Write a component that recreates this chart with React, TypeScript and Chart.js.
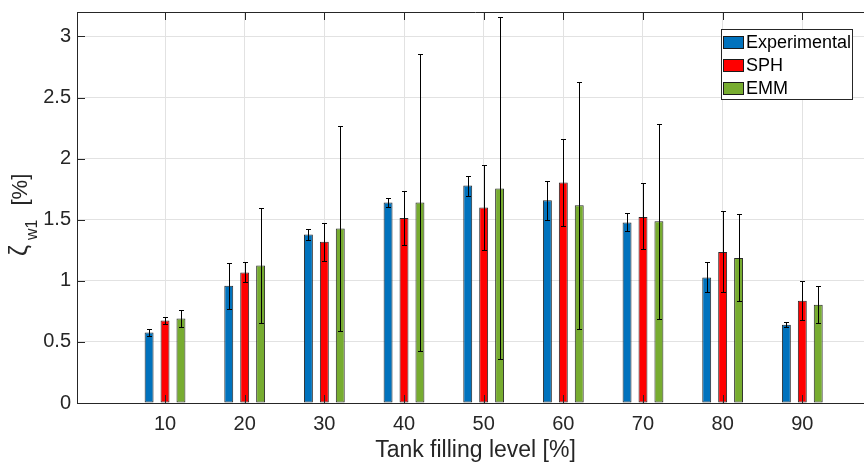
import React, { useEffect, useRef } from 'react';
import { Chart, registerables } from 'chart.js';

Chart.register(...registerables);

const levels = [10, 20, 30, 40, 50, 60, 70, 80, 90];
const seriesNames = ['Experimental', 'SPH', 'EMM'];

const expMean = [0.578, 0.959, 1.379, 1.641, 1.780, 1.660, 1.477, 1.028, 0.640];
const expLow = [0.545, 0.769, 1.338, 1.608, 1.698, 1.499, 1.409, 0.910, 0.621];
const expHigh = [0.608, 1.142, 1.420, 1.679, 1.859, 1.818, 1.551, 1.158, 0.660];

const sphMean = [0.676, 1.068, 1.319, 1.515, 1.600, 1.804, 1.523, 1.235, 0.837];
const sphLow = [0.648, 0.987, 1.164, 1.297, 1.251, 1.445, 1.257, 0.905, 0.676];
const sphHigh = [0.703, 1.153, 1.472, 1.731, 1.949, 2.164, 1.799, 1.572, 0.995];

const emmMean = [0.692, 1.126, 1.428, 1.641, 1.755, 1.619, 1.488, 1.186, 0.804];
const emmLow = [0.621, 0.652, 0.589, 0.425, 0.357, 0.608, 0.684, 0.834, 0.652];
const emmHigh = [0.762, 1.597, 2.268, 2.859, 3.156, 2.630, 2.284, 1.543, 0.959];

const yTicks = [0, 0.5, 1, 1.5, 2, 2.5, 3];

const FONT = "'Liberation Sans', Arial, Helvetica, sans-serif";
const colors = ['#0072BD', '#FF0000', '#77AC30'];
const AXIS = '#262626';
const GRID = '#e2e2e2';

export default function App() {
  const ref = useRef<HTMLCanvasElement>(null);

  useEffect(() => {
    if (!ref.current) return;
    const means = [expMean, sphMean, emmMean];
    const lows = [expLow, sphLow, emmLow];
    const highs = [expHigh, sphHigh, emmHigh];

    const datasets = seriesNames.map((name, i) => ({
      label: name,
      data: levels.map((x, j) => ({ x, y: means[i][j] })),
      backgroundColor: colors[i],
      borderColor: '#2a2a2a',
      borderWidth: 1,
      borderSkipped: false,
      inflateAmount: 0,
      categoryPercentage: 0.6,
      barPercentage: 0.56,
    }));

    const overlay = {
      id: 'overlay',
      afterDatasetsDraw(chart: any) {
        const ctx = chart.ctx;
        const { left, right, top, bottom } = chart.chartArea;
        const xs = chart.scales.x;
        const ys = chart.scales.y;
        ctx.save();
        // error bars
        ctx.strokeStyle = '#000';
        ctx.lineWidth = 1;
        chart.data.datasets.forEach((_ds: any, i: number) => {
          const meta = chart.getDatasetMeta(i);
          meta.data.forEach((el: any, j: number) => {
            const cx = Math.round(el.x) + 0.5;
            const y1 = Math.round(ys.getPixelForValue(highs[i][j])) + 0.5;
            const y2 = Math.round(ys.getPixelForValue(lows[i][j])) + 0.5;
            ctx.beginPath();
            ctx.moveTo(cx, y1);
            ctx.lineTo(cx, y2);
            ctx.moveTo(cx - 2.5, y1);
            ctx.lineTo(cx + 2.5, y1);
            ctx.moveTo(cx - 2.5, y2);
            ctx.lineTo(cx + 2.5, y2);
            ctx.stroke();
          });
        });
        // frame
        ctx.strokeStyle = AXIS;
        ctx.lineWidth = 1;
        ctx.beginPath();
        ctx.moveTo(left, top + 0.5);
        ctx.lineTo(right, top + 0.5);
        ctx.moveTo(left + 0.5, top);
        ctx.lineTo(left + 0.5, bottom);
        ctx.moveTo(left, bottom + 0.5);
        ctx.lineTo(right, bottom + 0.5);
        // inside ticks
        levels.forEach((v) => {
          const px = Math.round(xs.getPixelForValue(v)) + 0.5;
          ctx.moveTo(px, bottom);
          ctx.lineTo(px, bottom - 8);
          ctx.moveTo(px, top);
          ctx.lineTo(px, top + 8);
        });
        yTicks.forEach((v) => {
          const py = Math.round(ys.getPixelForValue(v)) + 0.5;
          ctx.moveTo(left, py);
          ctx.lineTo(left + 8, py);
        });
        ctx.stroke();

        // legend
        const bx = 721.5, by = 29.5, bw = 131, bh = 70;
        ctx.fillStyle = '#ffffff';
        ctx.fillRect(bx, by, bw, bh);
        ctx.strokeStyle = AXIS;
        ctx.strokeRect(bx, by, bw, bh);
        ctx.font = `18px ${FONT}`;
        ctx.textBaseline = 'middle';
        ctx.textAlign = 'left';
        seriesNames.forEach((name, i) => {
          const cy = 42 + i * 23.2;
          ctx.fillStyle = colors[i];
          ctx.fillRect(723, Math.round(cy - 6.5), 21, 13);
          ctx.strokeStyle = '#1a1a1a';
          ctx.strokeRect(723.5, Math.round(cy - 6.5) + 0.5, 20, 12);
          ctx.fillStyle = '#000';
          ctx.fillText(name, 746, cy + 1);
        });

        // y-axis title: zeta_{w1} [%]
        ctx.save();
        ctx.rotate(-Math.PI / 2);
        ctx.fillStyle = AXIS;
        ctx.textBaseline = 'alphabetic';
        ctx.textAlign = 'left';
        ctx.font = `25px ${FONT}`;
        ctx.fillText('ζ', -256, 27);
        ctx.font = `16px ${FONT}`;
        ctx.fillText('w1', -240, 36.5);
        ctx.font = `22px ${FONT}`;
        ctx.fillText('[%]', -205.5, 27);
        ctx.restore();

        ctx.restore();
      },
    };

    const chart = new Chart(ref.current, {
      type: 'bar',
      data: { datasets: datasets as any },
      options: {
        animation: false,
        responsive: false,
        layout: { padding: { top: 12, left: 0, right: 0, bottom: 0 } },
        plugins: {
          legend: { display: false },
          tooltip: { enabled: false },
        },
        scales: {
          x: {
            type: 'linear',
            offset: false,
            min: -1.05,
            max: 99,
            afterBuildTicks: (s: any) => {
              s.ticks = levels.map((v) => ({ value: v }));
            },
            afterFit: (s: any) => {
              s.height = 62;
              s.paddingLeft = 0;
              s.paddingRight = 0;
            },
            ticks: {
              callback: (v: any) => String(v),
              font: { size: 20, family: FONT },
              color: AXIS,
              padding: 9,
              maxRotation: 0,
              autoSkip: false,
            },
            grid: { color: GRID, drawTicks: false, lineWidth: 1, offset: false },
            border: { color: AXIS },
            title: {
              display: true,
              text: 'Tank filling level [%]',
              font: { size: 23, family: FONT },
              color: AXIS,
              padding: { top: 0, bottom: 1 },
            },
          },
          y: {
            type: 'linear',
            min: 0,
            max: 3.2,
            afterBuildTicks: (s: any) => {
              s.ticks = yTicks.map((v) => ({ value: v }));
            },
            afterFit: (s: any) => {
              s.width = 77;
              s.paddingTop = 0;
              s.paddingBottom = 0;
            },
            ticks: {
              callback: (v: any) => String(v),
              font: { size: 20, family: FONT },
              color: AXIS,
              padding: 6,
            },
            grid: { color: GRID, drawTicks: false, lineWidth: 1 },
            border: { color: AXIS },
          },
        },
      } as any,
      plugins: [overlay],
    });
    return () => chart.destroy();
  }, []);

  return (
    <div style={{ position: 'fixed', left: 0, top: 0, width: 864, height: 465, overflow: 'hidden', background: '#fff' }}>
      <canvas ref={ref} width={874} height={465} style={{ display: 'block', width: 874, height: 465 }} />
    </div>
  );
}
